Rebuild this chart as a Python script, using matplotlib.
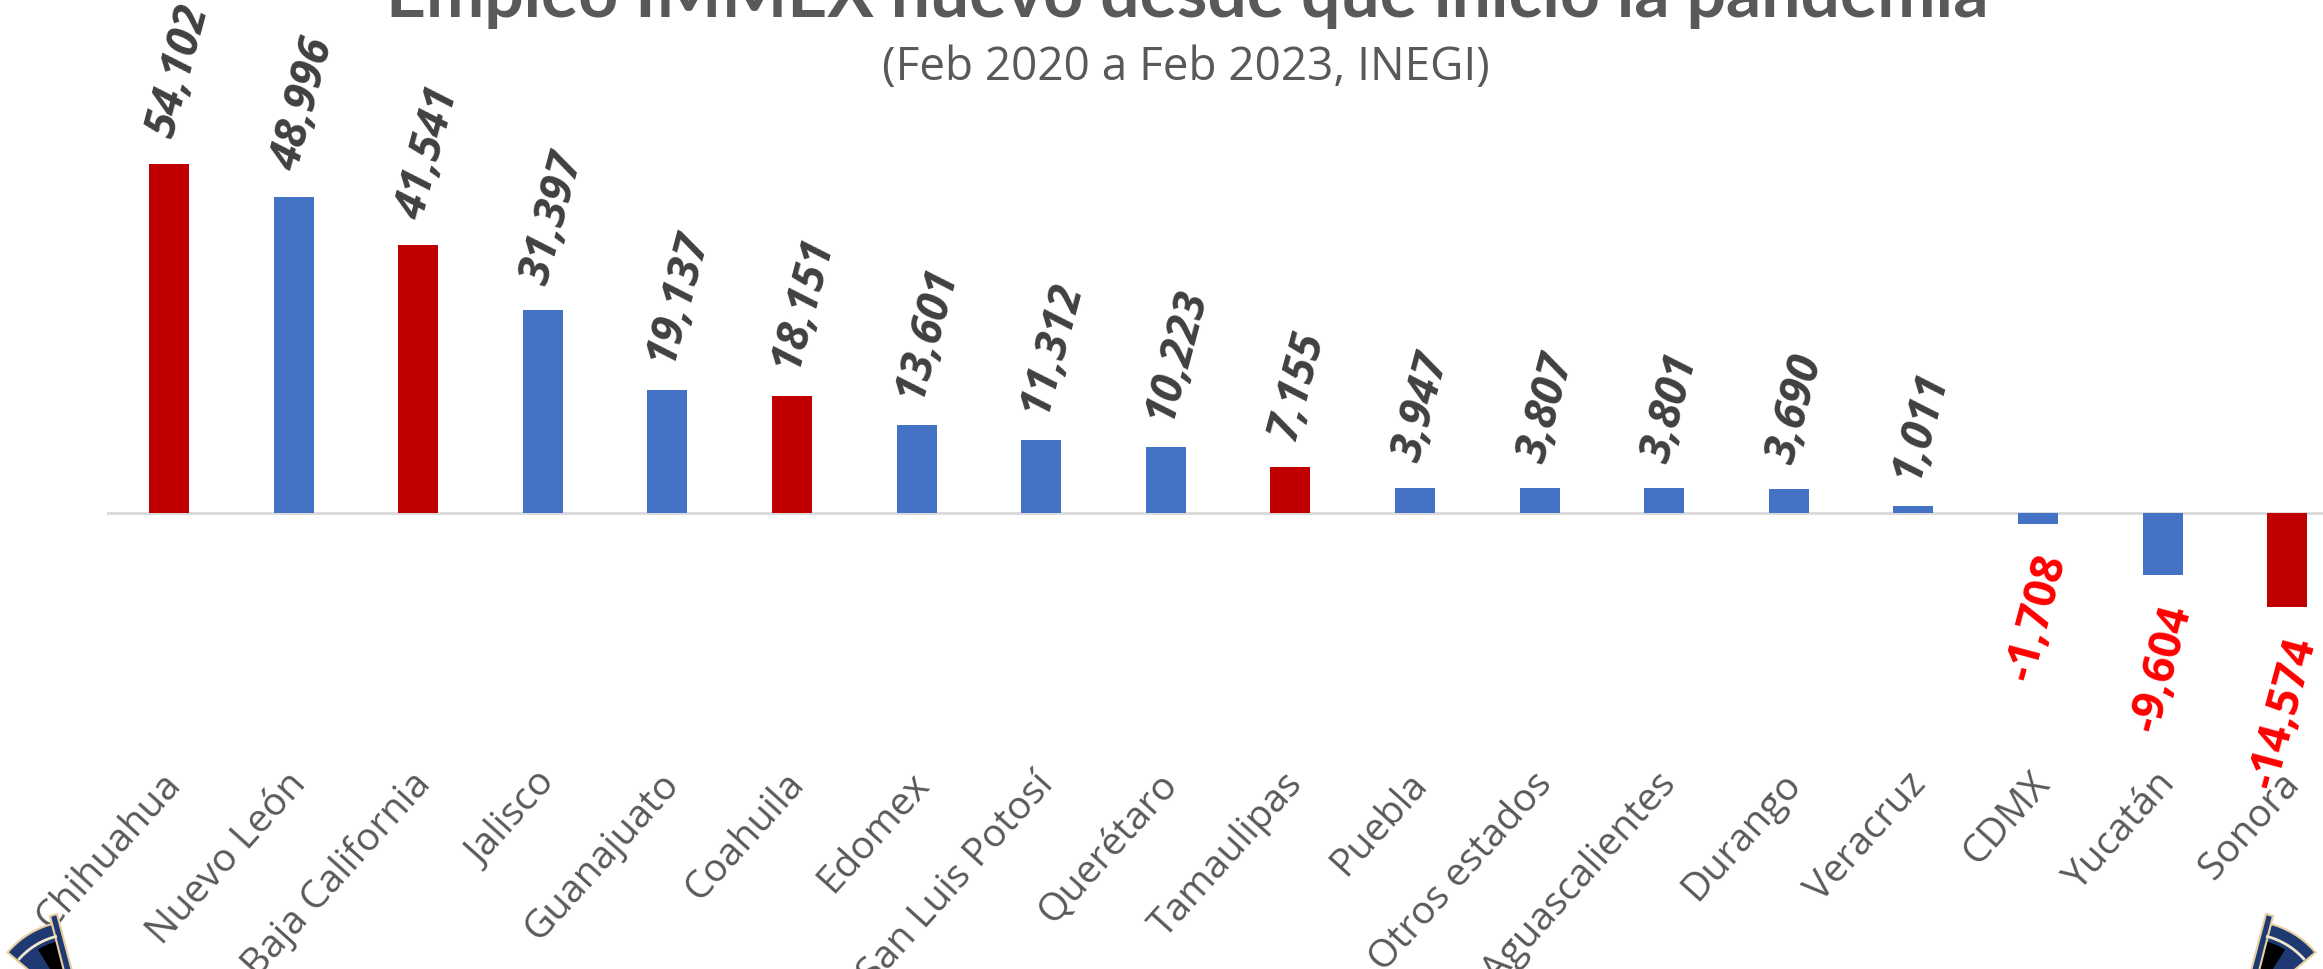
import numpy as np
import matplotlib
matplotlib.use("Agg")
import matplotlib.pyplot as plt
from matplotlib.patches import Polygon

# empleo IMMEX, cambio Feb 2020 -> Feb 2023
estados = ["Chihuahua", "Nuevo León", "Baja California", "Jalisco", "Guanajuato",
           "Coahuila", "Edomex", "San Luis Potosí", "Querétaro", "Tamaulipas",
           "Puebla", "Otros estados", "Aguascalientes", "Durango", "Veracruz",
           "CDMX", "Yucatán", "Sonora"]
empleo = [54102, 48996, 41541, 31397, 19137, 18151, 13601, 11312, 10223, 7155,
          3947, 3807, 3801, 3690, 1011, -1708, -9604, -14574]
frontera = ["Chihuahua", "Baja California", "Coahuila", "Tamaulipas", "Sonora"]

ROJO = "#C00000"
AZUL = "#4472C4"
GRIS = "#595959"

W, H = 2323, 970
fig = plt.figure(figsize=(W / 100, H / 100), dpi=100)

# plot area runs a bit past the right edge
x0 = 106.7 / W
ancho = 18 * 124.6 / W
ax = fig.add_axes([x0, 0, ancho, 1])
ax.set_xlim(-0.5, len(estados) - 0.5)
ax.set_ylim(-70680, 79670)
ax.axis("off")

x = np.arange(len(estados))
colores = [ROJO if e in frontera else AZUL for e in estados]
ax.bar(x, empleo, width=0.32, color=colores, edgecolor="none", zorder=2)
ax.axhline(0, color="#D9D9D9", lw=2, zorder=1)

fuente = "Open Sans"
for i, v in enumerate(empleo):
    txt = f"{v:,}"
    if v >= 0:
        ax.annotate(txt, (i, v), xytext=(-7, 28), textcoords="offset pixels",
                    rotation=75, rotation_mode="anchor", ha="left", va="center",
                    fontsize=32, fontweight="bold", fontstyle="italic",
                    color="#404040", family=fuente)
    else:
        ax.annotate(txt, (i, v), xytext=(16, -30), textcoords="offset pixels",
                    rotation=75, rotation_mode="anchor", ha="right", va="center",
                    fontsize=32, fontweight="bold",
                    color="#FF0000", family=fuente)

# category labels
for i, e in enumerate(estados):
    ax.annotate(e, (i, 0), xytext=(6, -264), textcoords="offset pixels",
                rotation=48, rotation_mode="anchor", ha="right", va="center",
                fontsize=28, color=GRIS, family=fuente)

fig.text(0.511, 1 - 17 / H, "Empleo IMMEX nuevo desde que inició la pandemia",
         ha="center", va="baseline", fontsize=50, fontweight="bold", color=GRIS,
         family="Lato")
fig.text(0.5105, 1 - 68 / H, "(Feb 2020 a Feb 2023, INEGI)",
         ha="center", va="center", fontsize=33, color=GRIS, family=fuente)

# small logos in the bottom corners (pixel coords, y down)
lay = fig.add_axes([0, 0, 1, 1], zorder=5)
lay.set_xlim(0, W)
lay.set_ylim(H, 0)
lay.axis("off")


def logo(espejo):
    fx = (lambda px: W - px) if espejo else (lambda px: px)
    cx, cy = 75, 1010
    phi = np.radians(np.linspace(105, 140, 40))
    ext = [(fx(cx + 88 * np.cos(p)), cy - 88 * np.sin(p)) for p in phi]
    inn = [(fx(cx + 30 * np.cos(p)), cy - 30 * np.sin(p)) for p in phi[::-1]]
    lay.add_patch(Polygon(ext + inn, closed=True, fc="#1F3A73", ec="#E8CFA0", lw=1.5))
    phi2 = np.radians(np.linspace(100, 122, 20))
    neg = [(fx(cx + 70 * np.cos(p)), cy - 70 * np.sin(p)) for p in phi2]
    lay.add_patch(Polygon(neg + [(fx(cx), cy)], closed=True, fc="black", ec="none"))
    arc = np.radians(np.linspace(105, 138, 30))
    lay.plot([fx(cx + 75 * np.cos(p)) for p in arc], [cy - 75 * np.sin(p) for p in arc],
             color="#F2E6CC", lw=2)
    barra = [(fx(50), 917), (fx(57), 915), (fx(72), 972), (fx(64), 972)]
    lay.add_patch(Polygon(barra, closed=True, fc="#1F3A73", ec="#E8CFA0", lw=1.5))


logo(False)
logo(True)

fig.savefig("out.png", dpi=100)
